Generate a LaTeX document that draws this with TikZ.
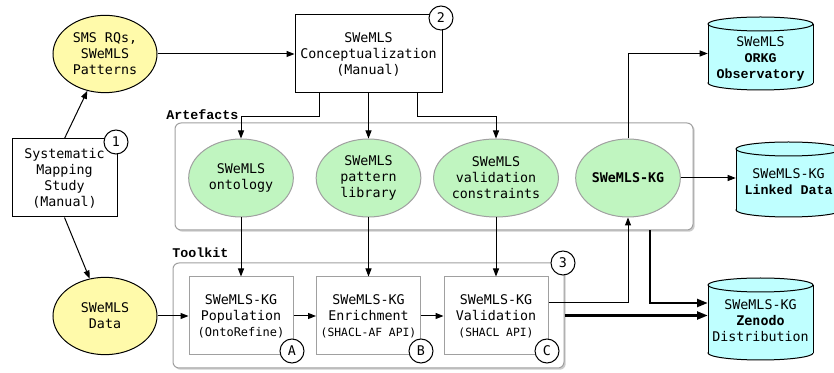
\documentclass[tikz,border=0pt]{standalone}
\usepackage{fontspec}
\setmainfont{DejaVu Sans}
\setmonofont{DejaVu Sans Mono}
\newfontfamily\courfont{Liberation Mono}
\usetikzlibrary{arrows.meta,shadows,shapes.geometric}
\definecolor{yel}{HTML}{FFFAAA}
\definecolor{grn}{HTML}{C0F5C0}
\definecolor{cyn}{HTML}{BFFFFF}
\definecolor{bord}{HTML}{A0A0A0}
\newcommand\cylshape[5]{%
  \pgfmathsetmacro\cylcx{(#1+#3)/2}%
  \pgfmathsetmacro\cylrx{(#3-#1)/2}%
  \filldraw[fill=cyn,draw=black,line width=0.75pt] (\cylcx,#4-#5) ellipse [x radius=\cylrx, y radius=#5];
  \fill[cyn] (#1,#2+#5) rectangle (#3,#4-#5);
  \draw[line width=0.75pt] (#1,#2+#5) -- (#1,#4-#5) (#3,#2+#5) -- (#3,#4-#5);
  \filldraw[fill=cyn,draw=black,line width=0.75pt] (\cylcx,#2+#5) ellipse [x radius=\cylrx, y radius=#5];
}
\begin{document}
\begin{tikzpicture}[x=0.75pt,y=-0.75pt,
  every node/.style={font=\ttfamily\fontsize{10}{12}\selectfont, align=center, inner sep=0pt},
  yell/.style={ellipse, draw=black, fill=yel, line width=0.75pt, minimum width=78pt, minimum height=58pt},
  grel/.style={ellipse, draw=bord, fill=grn, line width=0.75pt, minimum width=78.5pt, minimum height=58.5pt},
  pbox/.style={rectangle, draw=black, fill=white, line width=0.75pt, minimum height=58.5pt},
  tbox/.style={rectangle, draw=bord, fill=white, line width=0.75pt, minimum width=78pt, minimum height=58.5pt},
  cont/.style={rectangle, rounded corners=4.5pt, draw=bord, fill=white, line width=0.75pt,
     drop shadow={shadow xshift=1.3pt, shadow yshift=-1.3pt, fill=black!40}},
  num/.style={circle, draw=black, fill=white, line width=0.75pt, minimum size=18pt},
  lbl/.style={font=\courfont\bfseries\fontsize{10}{12}\selectfont, anchor=west},
  cyltext/.style={rectangle, minimum width=78.75pt},
  arr/.style={-{Triangle[length=6pt,width=4.5pt]}, line width=0.75pt},
  tarr/.style={-{Triangle[length=8pt,width=6pt]}, line width=1.6pt}
]
\useasboundingbox (0,0) rectangle (834,373);

% containers
\node[cont, minimum width=388.5pt, minimum height=80.25pt] (art) at (434,176.5) {};
\node[cont, minimum width=293.25pt, minimum height=78.75pt] (tool) at (368.5,315.5) {};
\node[lbl] (artlbl) at (166,115) {Artefacts};
\node[lbl] (toollbl) at (172,253) {Toolkit};

% left column
\node[yell] (rq) at (105,54) {SMS RQs,\\SWeMLS\\Patterns};
\node[pbox, minimum width=78.75pt] (sms) at (64.5,178) {Systematic\\Mapping\\Study\\(Manual)};
\node[num] (n1) at (116,142) {1};
\node[yell] (data) at (105,316) {SWeMLS\\Data};

% conceptualization
\node[pbox, minimum width=110.25pt] (concept) at (368.5,54) {SWeMLS\\Conceptualization\\(Manual)};
\node[num] (n2) at (441,18) {2};

% artefacts
\node[grel] (onto) at (241,178) {SWeMLS\\ontology};
\node[grel] (pat) at (368.5,178) {SWeMLS\\pattern\\library};
\node[grel] (cons) at (496,178) {SWeMLS\\validation\\constraints};
\node[grel] (kg) at (628,178) {\bfseries SWeMLS-KG};

% toolkit
\node[tbox] (pop) at (241,316) {SWeMLS-KG\\Population\\{\fontsize{9}{12}\selectfont(OntoRefine)}};
\node[tbox] (enr) at (368.5,316) {SWeMLS-KG\\Enrichment\\{\fontsize{8.5}{12}\selectfont(SHACL-AF API)}};
\node[tbox] (val) at (496,316) {SWeMLS-KG\\Validation\\{\fontsize{8.5}{12}\selectfont(SHACL API)}};
\node[num] (na) at (292,351) {A};
\node[num] (nb) at (421,351) {B};
\node[num] (nc) at (547,351) {C};
\node[num] (n3) at (563,263) {3};

% cylinders
\cylshape{708}{17}{813}{90}{7}
\node[cyltext, minimum height=54.75pt] (orkg) at (760.5,53.5) {};
\node[cyltext] (orkgtext) at (760.5,58.5) {SWeMLS\\\courfont\bfseries ORKG\\\courfont\bfseries Observatory};
\cylshape{736}{142}{841}{217}{7}
\node[cyltext, minimum height=56.25pt] (lod) at (788.5,179.5) {};
\node[cyltext] (lodtext) at (788.5,182) {SWeMLS-KG\\\courfont\bfseries Linked Data};
\cylshape{708}{278}{813}{360}{7}
\node[cyltext, minimum height=61.5pt] (zen) at (760.5,319) {};
\node[cyltext] (zentext) at (760.5,321) {SWeMLS-KG\\\bfseries Zenodo\\\mdseries Distribution};

% connectors
\draw[arr] (sms.north) -- (rq);
\draw[arr] (sms.south) -- (data);
\draw[arr] (rq.east) -- (concept.west);
\draw[arr] ([xshift=-36.4pt]concept.south) -- ++(0,23) -| (onto.north);
\draw[arr] (concept.south -| pat.north) -- (pat.north);
\draw[arr] ([xshift=36.4pt]concept.south) -- ++(0,23) -| (cons.north);
\draw[arr] (onto.south) -- (pop.north);
\draw[arr] (pat.south) -- (enr.north);
\draw[arr] (cons.south) -- (val.north);
\draw[arr] (data.east) -- (pop.west);
\draw[arr] (pop.east) -- (enr.west);
\draw[arr] (enr.east) -- (val.west);
\draw[arr] ([yshift=9.75pt]val.east) -| (kg.south);
\draw[arr] (kg.north) |- (orkg.west);
\draw[arr] (kg.east) -- (kg.east -| lod.west);
\coordinate (kgdrop) at ([xshift=16.5pt]kg.south);
\coordinate (zin) at ([yshift=12pt]zen.west);
\draw[tarr] (kgdrop |- art.south) |- (zin);
\draw[tarr] (tool.east) -- (tool.east -| zen.west);
\end{tikzpicture}
\end{document}
